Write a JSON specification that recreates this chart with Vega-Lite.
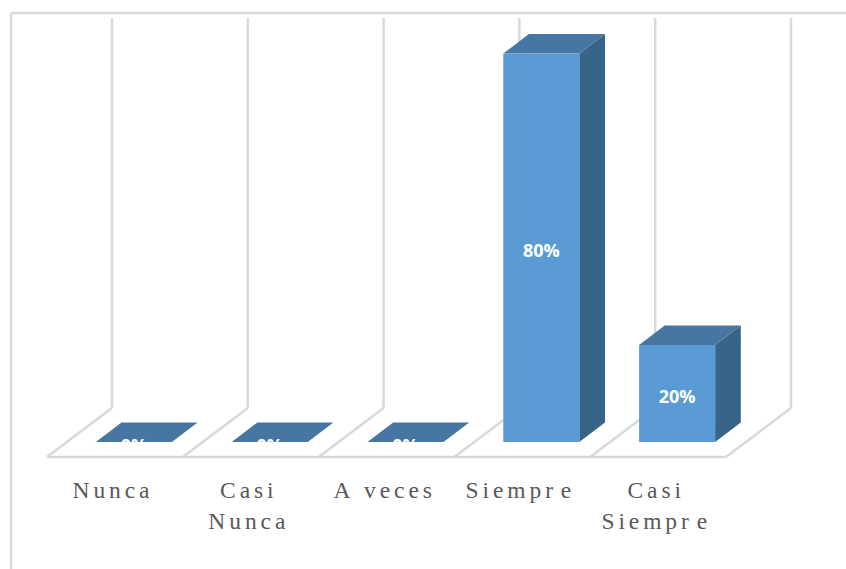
{
  "$schema": "https://vega.github.io/schema/vega-lite/v6.json",
  "width": 835,
  "height": 556,
  "autosize": "none",
  "padding": {"left": 11, "top": 13, "right": 0, "bottom": 0},
  "background": "white",
  "config": {"view": {"stroke": null}},
  "datasets": {
    "respuestas": [
      {"categoria": "Nunca", "etiqueta": "N\u2006u\u2006n\u2006c\u2006a", "orden": 0, "porcentaje": 0},
      {"categoria": "Casi Nunca", "etiqueta": "C\u2006a\u2006s\u2006i\nN\u2006u\u2006n\u2006c\u2006a", "orden": 1, "porcentaje": 0},
      {"categoria": "A veces", "etiqueta": "A\u2006 \u2006v\u2006e\u2006c\u2006e\u2006s", "orden": 2, "porcentaje": 0},
      {"categoria": "Siempre", "etiqueta": "S\u2006i\u2006e\u2006m\u2006p\u2006r\u2006\u2006e", "orden": 3, "porcentaje": 80},
      {"categoria": "Casi Siempre", "etiqueta": "C\u2006a\u2006s\u2006i\nS\u2006i\u2006e\u2006m\u2006p\u2006r\u2006\u2006e", "orden": 4, "porcentaje": 20}
    ],
    "divisiones": [{"orden": 0}, {"orden": 1}, {"orden": 2}, {"orden": 3}, {"orden": 4}, {"orden": 5}]
  },
  "layer": [
    {
      "data": {"values": [{"desde": -0.2651, "hasta": 5.8837}]},
      "mark": {"type": "rule", "color": "#d9d9d9", "strokeWidth": 2.5},
      "encoding": {
        "x": {"field": "desde", "type": "quantitative", "scale": {"domain": [-0.2651, 5.8837], "nice": false, "zero": false}, "axis": null},
        "x2": {"field": "hasta"},
        "y": {"datum": 88.34, "type": "quantitative", "scale": {"domain": [-26.15, 88.34], "nice": false, "zero": false}, "axis": null}
      }
    },
    {
      "data": {"values": [{"desde": -26.15, "hasta": 88.34}]},
      "mark": {"type": "rule", "color": "#d9d9d9", "strokeWidth": 2.5},
      "encoding": {
        "x": {"datum": -0.2651, "type": "quantitative", "scale": {"domain": [-0.2651, 5.8837], "nice": false, "zero": false}, "axis": null},
        "y": {"field": "desde", "type": "quantitative", "scale": {"domain": [-26.15, 88.34], "nice": false, "zero": false}, "axis": null},
        "y2": {"field": "hasta"}
      }
    },
    {
      "data": {"name": "divisiones"},
      "transform": [{"calculate": "datum.orden + 0.4787", "as": "fondo"}],
      "mark": {"type": "rule", "color": "#d9d9d9", "strokeWidth": 2.5},
      "encoding": {
        "x": {"field": "orden", "type": "quantitative", "scale": {"domain": [-0.2651, 5.8837], "nice": false, "zero": false}, "axis": null},
        "x2": {"field": "fondo"},
        "y": {"datum": -3.09, "type": "quantitative", "scale": {"domain": [-26.15, 88.34], "nice": false, "zero": false}, "axis": null},
        "y2": {"datum": 7}
      }
    },
    {
      "data": {"name": "divisiones"},
      "transform": [{"calculate": "datum.orden + 0.4787", "as": "fondo"}],
      "mark": {"type": "rule", "color": "#d9d9d9", "strokeWidth": 2.5},
      "encoding": {
        "x": {"field": "fondo", "type": "quantitative", "scale": {"domain": [-0.2651, 5.8837], "nice": false, "zero": false}, "axis": null},
        "y": {"datum": 7, "type": "quantitative", "scale": {"domain": [-26.15, 88.34], "nice": false, "zero": false}, "axis": null},
        "y2": {"datum": 87.3}
      }
    },
    {
      "data": {"values": [{"desde": 0, "hasta": 5}]},
      "mark": {"type": "rule", "color": "#d9d9d9", "strokeWidth": 2.5},
      "encoding": {
        "x": {"field": "desde", "type": "quantitative", "scale": {"domain": [-0.2651, 5.8837], "nice": false, "zero": false}, "axis": null},
        "x2": {"field": "hasta"},
        "y": {"datum": -3.09, "type": "quantitative", "scale": {"domain": [-26.15, 88.34], "nice": false, "zero": false}, "axis": null}
      }
    },
    {
      "data": {"name": "respuestas"},
      "transform": [
        {"calculate": "[0, 1]", "as": "p"},
        {"flatten": ["p"]},
        {"calculate": "datum.orden + 0.92 + datum.p * 0.189", "as": "xLado"},
        {"calculate": "datum.porcentaje + datum.p * 4.016", "as": "yAlto"},
        {"calculate": "datum.p * 4.016", "as": "yBajo"}
      ],
      "mark": {"type": "area", "color": "#38648a", "orient": "vertical"},
      "encoding": {
        "detail": {"field": "categoria"},
        "x": {"field": "xLado", "type": "quantitative", "scale": {"domain": [-0.2651, 5.8837], "nice": false, "zero": false}, "axis": null},
        "y": {"field": "yAlto", "type": "quantitative", "scale": {"domain": [-26.15, 88.34], "nice": false, "zero": false}, "axis": null},
        "y2": {"field": "yBajo"}
      }
    },
    {
      "data": {"name": "respuestas"},
      "transform": [
        {"calculate": "[0, 1]", "as": "p"},
        {"flatten": ["p"]},
        {"calculate": "datum.orden + 0.36 + datum.p * 0.189", "as": "xIzq"},
        {"calculate": "datum.orden + 0.92 + datum.p * 0.189", "as": "xDer"},
        {"calculate": "datum.porcentaje + datum.p * 4.016", "as": "yTapa"}
      ],
      "mark": {"type": "area", "color": "#4676a1", "orient": "horizontal"},
      "encoding": {
        "detail": {"field": "categoria"},
        "x": {"field": "xIzq", "type": "quantitative", "scale": {"domain": [-0.2651, 5.8837], "nice": false, "zero": false}, "axis": null},
        "x2": {"field": "xDer"},
        "y": {"field": "yTapa", "type": "quantitative", "scale": {"domain": [-26.15, 88.34], "nice": false, "zero": false}, "axis": null}
      }
    },
    {
      "data": {"name": "respuestas"},
      "transform": [
        {"calculate": "datum.orden + 0.36", "as": "xIzq"},
        {"calculate": "datum.orden + 0.92", "as": "xDer"}
      ],
      "mark": {"type": "rect", "color": "#5b9bd5"},
      "encoding": {
        "x": {"field": "xIzq", "type": "quantitative", "scale": {"domain": [-0.2651, 5.8837], "nice": false, "zero": false}, "axis": null},
        "x2": {"field": "xDer"},
        "y": {"field": "porcentaje", "type": "quantitative", "scale": {"domain": [-26.15, 88.34], "nice": false, "zero": false}, "axis": null},
        "y2": {"datum": 0}
      }
    },
    {
      "data": {"name": "respuestas"},
      "transform": [
        {"calculate": "datum.orden + 0.64", "as": "xCentro"},
        {"calculate": "datum.porcentaje / 2", "as": "yCentro"},
        {"calculate": "datum.porcentaje + '%'", "as": "rotulo"}
      ],
      "mark": {"type": "text", "color": "white", "font": "Open Sans", "fontWeight": "bold", "fontSize": 18, "baseline": "middle", "align": "center", "dy": 4.5},
      "encoding": {
        "x": {"field": "xCentro", "type": "quantitative", "scale": {"domain": [-0.2651, 5.8837], "nice": false, "zero": false}, "axis": null},
        "y": {"field": "yCentro", "type": "quantitative", "scale": {"domain": [-26.15, 88.34], "nice": false, "zero": false}, "axis": null},
        "text": {"field": "rotulo"}
      }
    },
    {
      "data": {"name": "respuestas"},
      "transform": [{"calculate": "datum.orden + 0.4717", "as": "xEtiqueta"}],
      "mark": {"type": "text", "color": "#595959", "font": "Liberation Serif", "fontSize": 23.5, "baseline": "alphabetic", "align": "center", "lineBreak": "\n", "lineHeight": 31},
      "encoding": {
        "x": {"field": "xEtiqueta", "type": "quantitative", "scale": {"domain": [-0.2651, 5.8837], "nice": false, "zero": false}, "axis": null},
        "y": {"datum": -11.53, "type": "quantitative", "scale": {"domain": [-26.15, 88.34], "nice": false, "zero": false}, "axis": null},
        "text": {"field": "etiqueta"}
      }
    }
  ]
}
